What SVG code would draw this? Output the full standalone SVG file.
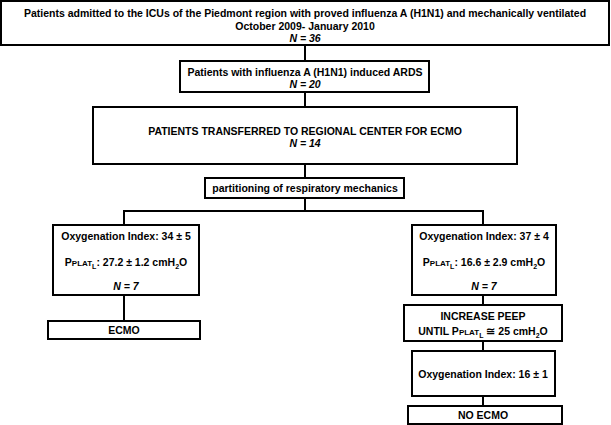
<svg xmlns="http://www.w3.org/2000/svg" width="611" height="425" viewBox="0 0 611 425">
<style>
.box{fill:#fff;stroke:#000;stroke-width:2}
.ln{stroke:#000;stroke-width:2;fill:none}
text{font-family:"Liberation Sans",Arial,sans-serif;font-weight:bold;font-size:10.5px;text-anchor:middle;fill:#000}
.it{font-style:italic}
.sc{font-size:8px}
.sb{font-size:7px}
</style>
<rect width="611" height="425" fill="#fff"/>
<g id="connectors">
<line class="ln" x1="305" y1="45" x2="305" y2="61"/>
<line class="ln" x1="305" y1="92" x2="305" y2="107"/>
<line class="ln" x1="305" y1="164" x2="305" y2="178"/>
<line class="ln" x1="305" y1="198" x2="305" y2="211"/>
<polyline class="ln" points="124,225 124,211 483,211 483,225"/>
<line class="ln" x1="124" y1="295" x2="124" y2="321"/>
<line class="ln" x1="483" y1="295" x2="483" y2="305"/>
<line class="ln" x1="483" y1="341" x2="483" y2="351"/>
<line class="ln" x1="483" y1="396" x2="483" y2="406"/>
</g>
<g id="n1">
<rect class="box" x="1" y="1" width="608" height="44"/>
<text x="305" y="16.5">Patients admitted to the ICUs of the Piedmont region with proved influenza A (H1N1) and mechanically ventilated</text>
<text x="305" y="29.5">October 2009- January 2010</text>
<text x="305" y="42" class="it">N = 36</text>
</g>
<g id="n2">
<rect class="box" x="180" y="61" width="249" height="31"/>
<text x="305" y="75.5">Patients with influenza A (H1N1) induced ARDS</text>
<text x="305" y="87.5" class="it">N = 20</text>
</g>
<g id="n3">
<rect class="box" x="93" y="107" width="424" height="57"/>
<text x="305" y="134.5">PATIENTS TRANSFERRED TO REGIONAL CENTER FOR ECMO</text>
<text x="305" y="146.5" class="it">N = 14</text>
</g>
<g id="n4">
<rect class="box" x="205" y="178" width="199" height="20"/>
<text x="305" y="191.5">partitioning of respiratory mechanics</text>
</g>
<g id="n5">
<rect class="box" x="53" y="225" width="146" height="70"/>
<text x="126" y="240">Oxygenation Index: 34 ± 5</text>
<text x="126" y="266">P<tspan class="sc">PLAT</tspan><tspan class="sb" dy="3">L</tspan><tspan dy="-3">: 27.2 ± 1.2 cmH</tspan><tspan class="sb" dy="3">2</tspan><tspan dy="-3">O</tspan></text>
<text x="126" y="289.5" class="it">N = 7</text>
</g>
<g id="n6">
<rect class="box" x="48" y="321" width="152" height="18"/>
<text x="124" y="334">ECMO</text>
</g>
<g id="n7">
<rect class="box" x="412" y="225" width="144" height="70"/>
<text x="484" y="240">Oxygenation Index: 37 ± 4</text>
<text x="484" y="266">P<tspan class="sc">PLAT</tspan><tspan class="sb" dy="3">L</tspan><tspan dy="-3">: 16.6 ± 2.9 cmH</tspan><tspan class="sb" dy="3">2</tspan><tspan dy="-3">O</tspan></text>
<text x="484" y="289.5" class="it">N = 7</text>
</g>
<g id="n8">
<rect class="box" x="404" y="305" width="158" height="36"/>
<text x="483" y="320">INCREASE PEEP</text>
<text x="483" y="335">UNTIL P<tspan class="sc">PLAT</tspan><tspan class="sb" dy="3">L</tspan><tspan dy="-3"> ≅ 25 cmH</tspan><tspan class="sb" dy="3">2</tspan><tspan dy="-3">O</tspan></text>
</g>
<g id="n9">
<rect class="box" x="412" y="351" width="143" height="45"/>
<text x="483" y="378">Oxygenation Index: 16 ± 1</text>
</g>
<g id="n10">
<rect class="box" x="408" y="406" width="154" height="18"/>
<text x="483" y="419">NO ECMO</text>
</g>
</svg>
